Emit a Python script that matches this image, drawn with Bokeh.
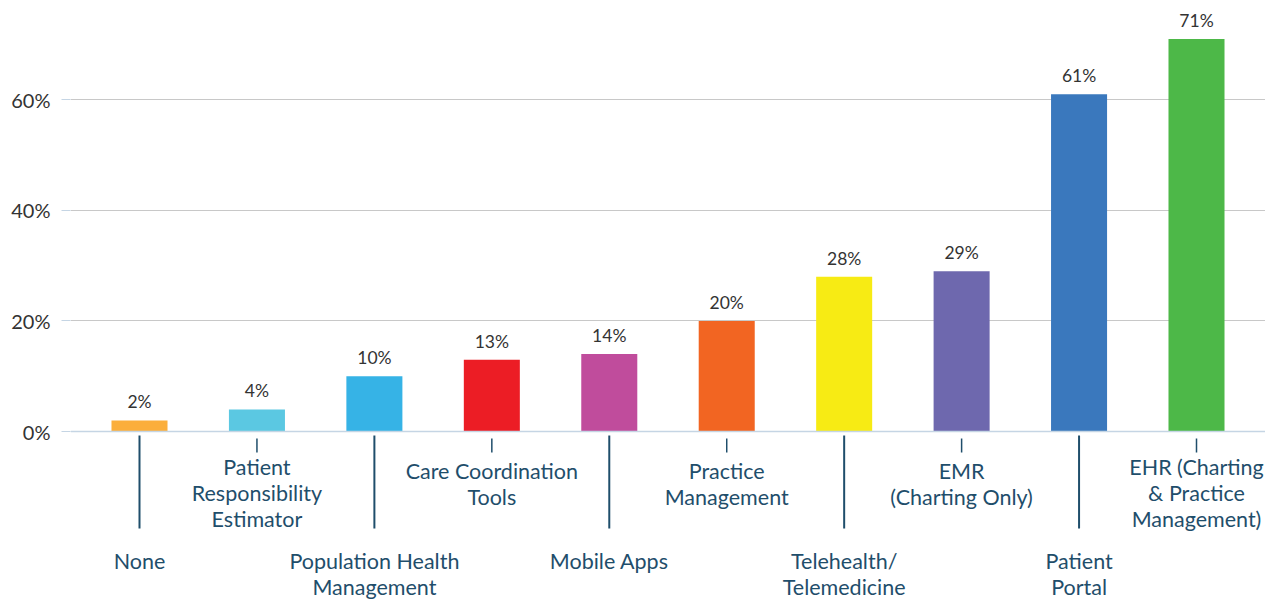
from bokeh.plotting import figure
from bokeh.models import (FactorRange, Range1d, FixedTicker, PrintfTickFormatter, Span,
                          ColumnDataSource, LabelSet)
from bokeh.core.properties import value
from bokeh.embed import file_html
from bokeh.resources import INLINE

categories = ["None", "Patient Responsibility Estimator", "Population Health Management",
              "Care Coordination Tools", "Mobile Apps", "Practice Management",
              "Telehealth/ Telemedicine", "EMR (Charting Only)", "Patient Portal",
              "EHR (Charting & Practice Management)"]
label_lines = [["None"], ["Patient", "Responsibility", "Estimator"], ["Population Health", "Management"],
               ["Care Coordination", "Tools"], ["Mobile Apps"], ["Practice", "Management"],
               ["Telehealth/", "Telemedicine"], ["EMR", "(Charting Only)"], ["Patient", "Portal"],
               ["EHR (Charting", "& Practice", "Management)"]]
values = [2, 4, 10, 13, 14, 20, 28, 29, 61, 71]
colors = ["#FBAE3B", "#5BC8E2", "#36B3E6", "#EC1D25", "#C04C9C", "#F26522",
          "#F7EB14", "#6E68AE", "#3A78BD", "#4DB848"]
y_ticks = [0, 20, 40, 60]

FONT = "Lato"
TEXT_DARK = "#333333"
CAT_COLOR = "#1F4E6B"
BLUE_LINE = "#C5D5E4"
GRID = "#C8C8C8"

W, H = 1265, 599
LEFT = 70
Y0, Y1 = -30.39, 77.97
UPP = (Y1 - Y0) / H  # data units per pixel


def below(px):
    return -px * UPP


p = figure(x_range=FactorRange(factors=categories, range_padding=0.0875,
                               range_padding_units="absolute"),
           y_range=Range1d(Y0, Y1), width=W, height=H,
           output_backend="svg", toolbar_location=None, x_axis_location=None,
           min_border_left=LEFT, min_border_right=0, min_border_top=0, min_border_bottom=0)
p.outline_line_color = None
p.background_fill_color = "white"
p.border_fill_color = "white"
p.xgrid.grid_line_color = None
p.ygrid.ticker = FixedTicker(ticks=[t for t in y_ticks if t != 0])
p.ygrid.grid_line_color = GRID
p.ygrid.grid_line_width = 1

ax = p.yaxis[0]
ax.ticker = FixedTicker(ticks=y_ticks)
ax.formatter = PrintfTickFormatter(format="%d%%")
ax.axis_line_color = None
ax.major_tick_line_color = BLUE_LINE
ax.major_tick_out = 9
ax.major_tick_in = 0
ax.minor_tick_line_color = None
ax.major_label_standoff = 11
ax.major_label_text_font = FONT
ax.major_label_text_font_size = "20px"
ax.major_label_text_color = TEXT_DARK

src = ColumnDataSource(dict(cat=categories, val=values, color=colors,
                            lab=[f"{v}%" for v in values]))
p.vbar(x="cat", top="val", width=0.477, fill_color="color", line_color=None, source=src)
p.add_layout(Span(location=0, dimension="width", line_color=BLUE_LINE, line_width=1.5))
p.text(x="cat", y="val", text="lab", source=src, text_align="center", text_baseline="bottom",
       y_offset=-8, text_font=value(FONT), text_font_size="17.5px", text_color=TEXT_DARK)

# leader lines and category labels
seg_x, seg_y0, seg_y1 = [], [], []
tx, ty, tt = [], [], []
for i, (cat, lines) in enumerate(zip(categories, label_lines)):
    seg_x.append(cat)
    if i % 2 == 0:
        seg_y0.append(below(4)); seg_y1.append(below(97))
        start = 129
    else:
        seg_y0.append(below(7)); seg_y1.append(below(21))
        start = 35 if len(lines) == 3 else 39
    for j, line in enumerate(lines):
        tx.append(cat); ty.append(below(start + 26 * j)); tt.append(line)

long_w = [2 if i % 2 == 0 else 1.5 for i in range(len(categories))]
p.segment(x0=seg_x, y0=seg_y0, x1=seg_x, y1=seg_y1, line_color=CAT_COLOR, line_width=long_w)

lab_src = ColumnDataSource(dict(x=tx, y=ty, t=tt))
p.add_layout(LabelSet(x="x", y="y", text="t", source=lab_src, text_align="center",
                      text_baseline="middle", text_font=value(FONT), text_font_size="21.5px",
                      text_color=CAT_COLOR))

open("out.html", "w").write(file_html(p, INLINE))
